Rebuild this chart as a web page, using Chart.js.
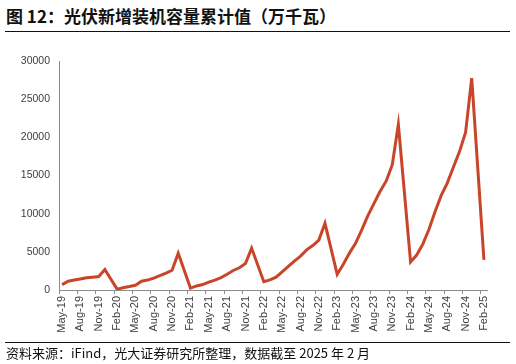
<!DOCTYPE html>
<html>
<head>
<meta charset="utf-8">
<script src="https://cdn.jsdelivr.net/npm/chart.js@4/dist/chart.umd.min.js"></script>
<style>
  html, body { margin: 0; padding: 0; background: #fff; }
  #wrap { position: relative; width: 516px; height: 364px; overflow: hidden; }
  #title {
    position: absolute; left: 6px; top: 3px;
    font: bold 17px "Noto Sans CJK SC", sans-serif; color: #111;
    white-space: nowrap;
  }
  .rule { position: absolute; left: 5px; width: 505px; height: 0; border-top: 1.3px solid #111; }
  #source {
    position: absolute; left: 6px; top: 343px;
    font: 13px "Noto Sans CJK SC", sans-serif; color: #111;
    white-space: nowrap;
  }
  #chart { position: absolute; left: 0; top: 0; }
</style>
</head>
<body>
<div id="wrap">
  <div id="title">图 12：光伏新增装机容量累计值（万千瓦）</div>
  <div class="rule" style="top:31px"></div>
  <canvas id="chart" width="516" height="364"></canvas>
  <div class="rule" style="top:342px"></div>
  <div id="source">资料来源：iFind，光大证券研究所整理，数据截至 2025 年 2 月</div>
</div>
<script>
// Monthly cumulative new PV capacity, 万千瓦. January has no figure (Jan-Feb reported together).
var months = ['Jan', 'Feb', 'Mar', 'Apr', 'May', 'Jun', 'Jul', 'Aug', 'Sep', 'Oct', 'Nov', 'Dec'];
var v2019 = [700, 1140, 1300, 1450, 1599, 1680, 1760, 2681];               // May-Dec
var v2020 = [null, 110, 300, 450, 620, 1152, 1300, 1555, 1870, 2200, 2587, 4820];
var v2021 = [null, 250, 533, 714, 1023, 1301, 1631, 2070, 2556, 2914, 3474, 5488];
var v2022 = [null, 1086, 1321, 1688, 2371, 3088, 3788, 4447, 5260, 5824, 6539, 8741];
var v2023 = [null, 2037, 3366, 4831, 6121, 7842, 9716, 11316, 12894, 14256, 16388, 21688];
var v2024 = [null, 3672, 4574, 6008, 7915, 10248, 12353, 13999, 16088, 18130, 20630, 27757];
var v2025 = [null, 3947];                                                    // Jan-Feb

var yTicks = [0, 5000, 10000, 15000, 20000, 25000, 30000];

var labels = [];
var values = [];
function addYear(yy, startMonth, arr) {
    arr.forEach(function(v, i) {
        labels.push(months[startMonth + i] + '-' + yy);
        values.push(v);
    });
}
addYear('19', 4, v2019);
addYear('20', 0, v2020);
addYear('21', 0, v2021);
addYear('22', 0, v2022);
addYear('23', 0, v2023);
addYear('24', 0, v2024);
addYear('25', 0, v2025);

var axisGrey = '#8c8c8c';
var textGrey = '#404040';

new Chart(document.getElementById('chart'), {
    type: 'line',
    data: {
        labels: labels,
        datasets: [{
            data: values,
            borderColor: '#c9452a',
            borderWidth: 3,
            pointRadius: 0,
            spanGaps: true,
            tension: 0
        }]
    },
    options: {
        responsive: false,
        animation: false,
        layout: {padding: {left: 0, right: 29, top: 61, bottom: 19}},
        plugins: {legend: {display: false}, tooltip: {enabled: false}},
        scales: {
            x: {
                offset: true,
                grid: {
                    offset: true,
                    drawOnChartArea: false,
                    tickLength: 4,
                    // tick marks only before every third month
                    color: function(ctx) {
                        return ctx.index % 3 === 0 ? axisGrey : 'rgba(0,0,0,0)';
                    }
                },
                border: {color: axisGrey, width: 1},
                ticks: {
                    autoSkip: false,
                    minRotation: 90,
                    maxRotation: 90,
                    padding: 2,
                    color: textGrey,
                    font: {family: 'Liberation Sans, Arial', size: 11},
                    callback: function(val, idx) {
                        return idx % 3 === 0 ? labels[idx] : '';
                    }
                },
                afterFit: function(scale) { scale.height = 55; }
            },
            y: {
                min: 0,
                max: 30000,
                afterBuildTicks: function(scale) {
                    scale.ticks = yTicks.map(function(v) { return {value: v}; });
                },
                grid: {drawOnChartArea: false, drawTicks: false},
                border: {color: axisGrey, width: 1},
                ticks: {
                    padding: 9,
                    color: textGrey,
                    font: {family: 'Liberation Sans, Arial', size: 10.5},
                    callback: function(v) { return String(v); }
                },
                afterFit: function(scale) { scale.width = 59; }
            }
        }
    }
});
</script>
</body>
</html>
